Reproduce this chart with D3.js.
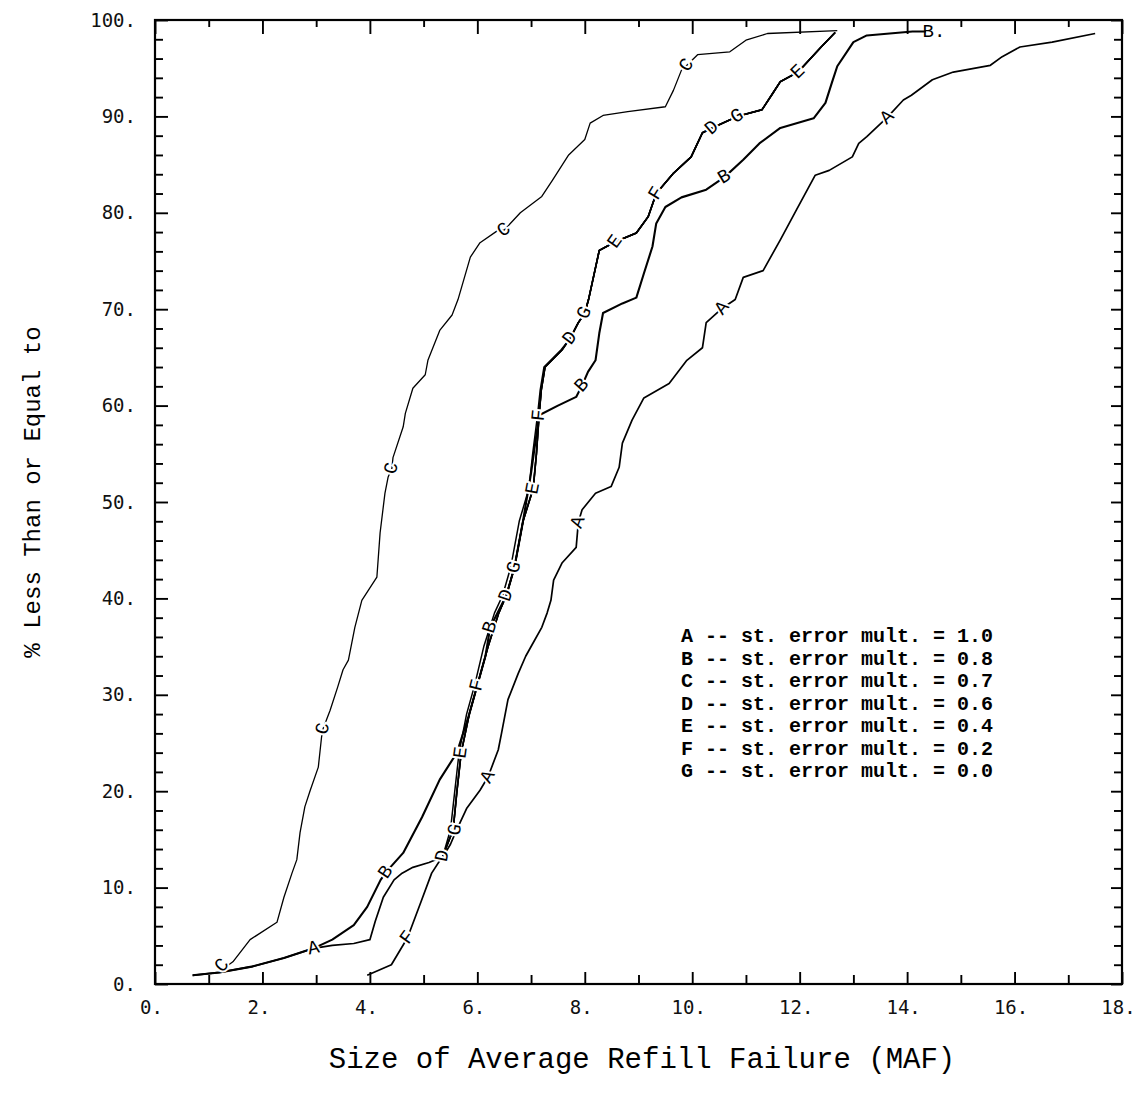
<!DOCTYPE html>
<html><head><meta charset="utf-8">
<script src="https://cdn.jsdelivr.net/npm/d3@7"></script>
<style>body{margin:0;background:#fff}</style>
</head><body><svg id="c" width="1141" height="1094"></svg>
<script>
// ---------------- data ----------------
const seriesNames = ["A","B","C","D","E","F","G"];
const legendLabels = [
  "A -- st. error mult. = 1.0",
  "B -- st. error mult. = 0.8",
  "C -- st. error mult. = 0.7",
  "D -- st. error mult. = 0.6",
  "E -- st. error mult. = 0.4",
  "F -- st. error mult. = 0.2",
  "G -- st. error mult. = 0.0"
];
const xTickValues = [0,2,4,6,8,10,12,14,16,18];
const yTickValues = [0,10,20,30,40,50,60,70,80,90,100];
const xTickLabels = ["0.","2.","4.","6.","8.","10.","12.","14.","16.","18."];
const yTickLabels = ["0.","10.","20.","30.","40.","50.","60.","70.","80.","90.","100."];

const curveA = [[0.7,0.9],[1.2,1.2],[1.8,1.8],[2.4,2.7],[2.95,3.7],[3.3,4.0],[3.7,4.2],[4.0,4.6],[4.1,6.5],[4.25,9],[4.45,10.8],[4.6,11.5],[4.8,12.1],[5.1,12.6],[5.36,13.2],[5.5,14.5],[5.6,15.8],[5.8,18.2],[6.05,20.1],[6.2,21.5],[6.39,24.3],[6.45,26],[6.57,29.5],[6.76,32.2],[6.9,34],[7.04,35.4],[7.2,37],[7.3,38.5],[7.37,39.8],[7.42,41.9],[7.58,43.7],[7.84,45.3],[7.88,47.9],[7.95,49.2],[8.2,50.9],[8.49,51.6],[8.64,53.6],[8.7,56.1],[8.88,58.5],[9.1,60.8],[9.57,62.3],[9.9,64.7],[10.19,66],[10.26,68.6],[10.56,70.1],[10.8,71],[10.95,73.3],[11.32,74],[11.64,77.2],[11.94,80.3],[12.29,83.9],[12.55,84.4],[12.98,85.8],[13.1,87.2],[13.25,87.9],[13.63,89.9],[13.93,91.7],[14.08,92.2],[14.47,93.8],[14.86,94.6],[15.55,95.3],[15.77,96.2],[16.1,97.2],[16.7,97.7],[17.5,98.6]];
const curveB = [[0.7,0.9],[1.2,1.2],[1.8,1.8],[2.4,2.7],[2.95,3.7],[3.3,4.6],[3.7,6.1],[3.95,8],[4.2,10.8],[4.3,11.6],[4.62,13.6],[4.97,17.3],[5.3,21.2],[5.62,24],[5.85,28],[6.0,31],[6.15,34],[6.24,37],[6.54,40.3],[6.69,43.2],[6.85,48],[7.0,53],[7.15,59],[7.5,60],[7.84,60.9],[7.95,62.1],[8.06,63.5],[8.2,64.7],[8.27,67.5],[8.34,69.6],[8.7,70.6],[8.96,71.2],[9.1,73.7],[9.26,76.5],[9.33,78.9],[9.5,80.6],[9.8,81.6],[10.26,82.4],[10.6,83.7],[10.95,85.5],[11.25,87.2],[11.64,88.8],[12.26,89.8],[12.48,91.4],[12.6,93.5],[12.7,95.2],[13.0,97.7],[13.25,98.4],[14.1,98.8],[14.35,98.8]];
const curveC = [[1.2,1.3],[1.45,2.3],[1.77,4.6],[2.27,6.4],[2.4,9],[2.55,11.5],[2.64,12.9],[2.7,15.7],[2.79,18.4],[2.89,20.1],[3.04,22.5],[3.1,25.6],[3.13,26.5],[3.26,28.4],[3.4,30.8],[3.5,32.6],[3.6,33.6],[3.72,37],[3.85,39.8],[4.13,42.2],[4.19,46.8],[4.28,50.9],[4.34,52.6],[4.41,53.5],[4.43,54.6],[4.62,57.8],[4.66,59.2],[4.8,61.8],[5.03,63.2],[5.08,64.7],[5.3,67.8],[5.53,69.4],[5.64,71],[5.87,75.4],[6.05,76.9],[6.39,78.2],[6.5,78.2],[6.8,80],[7.2,81.7],[7.4,83.4],[7.7,86],[8.0,87.6],[8.1,89.3],[8.34,90.1],[8.8,90.5],[9.5,91],[9.65,92.7],[9.8,94.8],[9.9,95.3],[10.1,96.4],[10.7,96.7],[11.0,97.9],[11.4,98.6],[12.7,98.9]];
const curveD = [[5.36,13.3],[5.55,16],[5.62,20],[5.7,24],[5.85,28],[6.0,31],[6.2,35],[6.4,38.5],[6.54,40.3],[6.69,43.2],[6.85,48],[7.04,51.4],[7.1,55],[7.15,59],[7.19,61.6],[7.26,64],[7.58,65.8],[7.73,67],[7.88,68.6],[8.0,69.6],[8.07,71],[8.27,76.1],[8.57,77],[8.96,77.9],[9.18,79.6],[9.33,82],[9.65,84.1],[9.98,85.8],[10.19,88.3],[10.37,88.8],[10.84,90],[11.3,90.7],[11.5,92.4],[11.64,93.6],[11.97,94.6],[12.4,97.2],[12.66,98.7]];
const curveE = [[5.36,13.3],[5.55,16],[5.62,20],[5.7,24],[5.85,28],[6.0,31],[6.2,35],[6.4,38.5],[6.54,40.3],[6.69,43.2],[6.85,48],[7.04,51.4],[7.1,55],[7.15,59],[7.19,61.6],[7.26,64],[7.58,65.8],[7.73,67],[7.88,68.6],[8.0,69.6],[8.07,71],[8.27,76.1],[8.57,77],[8.96,77.9],[9.18,79.6],[9.33,82],[9.65,84.1],[9.98,85.8],[10.19,88.3],[10.37,88.8],[10.84,90],[11.3,90.7],[11.5,92.4],[11.64,93.6],[11.97,94.6],[12.4,97.2],[12.66,98.7]];
const curveF = [[3.95,0.9],[4.4,2.0],[4.7,4.8],[4.95,8.5],[5.15,11.5],[5.36,13.3],[5.55,16],[5.62,20],[5.7,24],[5.85,28],[6.0,31],[6.2,35],[6.4,38.5],[6.54,40.3],[6.69,43.2],[6.85,48],[7.04,51.4],[7.1,55],[7.15,59],[7.19,61.6],[7.26,64],[7.58,65.8],[7.73,67],[7.88,68.6],[8.0,69.6],[8.07,71],[8.27,76.1],[8.57,77],[8.96,77.9],[9.18,79.6],[9.33,82],[9.65,84.1],[9.98,85.8],[10.19,88.3],[10.37,88.8],[10.84,90],[11.3,90.7],[11.5,92.4],[11.64,93.6],[11.97,94.6],[12.4,97.2],[12.66,98.7]];
const curveG = [[5.36,13.3],[5.5,16],[5.58,20],[5.66,24],[5.8,28],[5.95,31],[6.12,35],[6.32,38.5],[6.47,40.3],[6.62,43.2],[6.78,48],[6.96,51.4],[7.03,55],[7.12,59],[7.17,61.6],[7.24,64],[7.56,65.8],[7.73,67],[7.88,68.6],[8.0,69.6],[8.07,71],[8.27,76.1],[8.57,77],[8.96,77.9],[9.18,79.6],[9.33,82],[9.65,84.1],[9.98,85.8],[10.19,88.3],[10.37,88.8],[10.84,90],[11.3,90.7],[11.5,92.4],[11.64,93.6],[11.97,94.6],[12.4,97.2],[12.66,98.7]];

const labelsA = [[2.95,3.7],[6.2,21.5],[7.88,47.9],[10.56,70.1],[13.63,89.9]];
const labelsB = [[4.3,11.6],[6.24,37],[7.95,62.1],[10.6,83.7]];
const labelsC = [[1.25,1.9],[3.13,26.5],[4.41,53.5],[6.5,78.2],[9.9,95.3]];
const labelsD = [[5.36,13.3],[6.54,40.3],[7.73,67],[10.37,88.8]];
const labelsE = [[5.7,24],[7.04,51.4],[8.57,77],[11.97,94.6]];
const labelsF = [[4.7,4.8],[6.0,31],[7.15,59],[9.33,82]];
const labelsG = [[5.59,16],[6.69,43.2],[8.0,69.6],[10.84,90]];
const endLabelB = [14.5, 98.8];

// ---------------- drawing ----------------
const curves = {A:curveA,B:curveB,C:curveC,D:curveD,E:curveE,F:curveF,G:curveG};
const labels = {A:labelsA,B:labelsB,C:labelsC,D:labelsD,E:labelsE,F:labelsF,G:labelsG};
const widths = {A:1.7,B:2.1,C:1.3,D:1.5,E:1.5,F:1.7,G:1.5};

const svg = d3.select("#c");
const L=155, R=1122, T=20, B=984;
const x = d3.scaleLinear().domain([0,18]).range([L,R]);
const y = d3.scaleLinear().domain([0,100]).range([B,T]);
const tickFont = "'DejaVu Sans Mono', monospace";
const serif = "'Liberation Mono', 'Courier New', monospace";

// frame
svg.append("rect").attr("x",L).attr("y",T).attr("width",R-L).attr("height",B-T)
  .attr("fill","none").attr("stroke","#000").attr("stroke-width",2.2);

function styleAxis(g){
  g.select(".domain").remove();
  g.selectAll(".tick line").attr("stroke","#000").attr("stroke-width",1.9);
  g.selectAll("text").attr("font-family",tickFont).attr("font-size",19).attr("fill","#111");
}
const yMinor = d3.range(0,101,2).filter(v=>v%10!==0);
const xMinor = d3.range(1,18,2);

// left axis
svg.append("g").attr("transform",`translate(${L},0)`)
  .call(d3.axisLeft(y).tickValues(yMinor).tickSize(-8).tickFormat("")).call(styleAxis);
svg.append("g").attr("transform",`translate(${L},0)`)
  .call(d3.axisLeft(y).tickValues(yTickValues).tickSize(-13).tickPadding(19)
    .tickFormat((d,i)=>yTickLabels[i])).call(styleAxis);
// right axis
svg.append("g").attr("transform",`translate(${R},0)`)
  .call(d3.axisRight(y).tickValues(yMinor).tickSize(-8).tickFormat("")).call(styleAxis);
svg.append("g").attr("transform",`translate(${R},0)`)
  .call(d3.axisRight(y).tickValues(yTickValues).tickSize(-11).tickFormat("")).call(styleAxis);
// top axis
svg.append("g").attr("transform",`translate(0,${T})`)
  .call(d3.axisTop(x).tickValues(xMinor).tickSize(-7).tickFormat("")).call(styleAxis);
svg.append("g").attr("transform",`translate(0,${T})`)
  .call(d3.axisTop(x).tickValues(xTickValues).tickSize(-14).tickFormat("")).call(styleAxis);
// bottom axis
svg.append("g").attr("transform",`translate(0,${B})`)
  .call(d3.axisBottom(x).tickValues(xMinor).tickSize(-9).tickFormat("")).call(styleAxis);
const gb = svg.append("g").attr("transform",`translate(0,${B})`)
  .call(d3.axisBottom(x).tickValues(xTickValues).tickSize(-12).tickPadding(17)
    .tickFormat((d,i)=>xTickLabels[i])).call(styleAxis);
gb.selectAll("text").attr("dx",-4);

// curves
const line = d3.line().x(d=>x(d[0])).y(d=>y(d[1]));
seriesNames.forEach(s=>{
  svg.append("path").datum(curves[s]).attr("d",line)
    .attr("fill","none").attr("stroke","#000").attr("stroke-width",widths[s])
    .attr("stroke-linejoin","round");
});

// in-line labels, oriented along curve
function angleAt(data, px, py){
  let best=0, bd=1e9;
  for(let i=0;i<data.length-1;i++){
    const mx=(x(data[i][0])+x(data[i+1][0]))/2, my=(y(data[i][1])+y(data[i+1][1]))/2;
    const d=(mx-x(px))**2+(my-y(py))**2;
    if(d<bd){bd=d;best=i;}
  }
  const i0=Math.max(0,best-1), i1=Math.min(data.length-1,best+2);
  const dx=x(data[i1][0])-x(data[i0][0]), dy=y(data[i1][1])-y(data[i0][1]);
  return Math.atan2(dy,dx)*180/Math.PI;
}
seriesNames.forEach(s=>{
  labels[s].forEach(p=>{
    const a = angleAt(curves[s], p[0], p[1]);
    svg.append("text").attr("x",x(p[0])).attr("y",y(p[1]))
      .attr("transform",`rotate(${a},${x(p[0])},${y(p[1])})`)
      .attr("text-anchor","middle").attr("dominant-baseline","central")
      .attr("font-family",serif).attr("font-size",19)
      .attr("stroke","#fff").attr("stroke-width",4).attr("paint-order","stroke")
      .attr("fill","#000").text(s);
  });
});
svg.append("text").attr("x",x(endLabelB[0])).attr("y",y(endLabelB[1]))
  .attr("text-anchor","middle").attr("dominant-baseline","central")
  .attr("font-family",serif).attr("font-size",19).attr("fill","#000").text("B.");

// legend
const lg = svg.append("g");
legendLabels.forEach((t,i)=>{
  lg.append("text").attr("x",681).attr("y",642+i*22.5)
    .attr("font-family",serif).attr("font-weight","bold").attr("font-size",20)
    .attr("fill","#000").text(t);
});

// axis titles
svg.append("text").attr("x",642).attr("y",1068).attr("text-anchor","middle")
  .attr("font-family",serif).attr("font-size",29).attr("fill","#000")
  .text("Size of Average Refill Failure (MAF)");
svg.append("text").attr("transform","translate(40,492) rotate(-90)")
  .attr("text-anchor","middle").attr("font-family",serif).attr("font-size",24).attr("fill","#000")
  .text("% Less Than or Equal to");
</script></body></html>
